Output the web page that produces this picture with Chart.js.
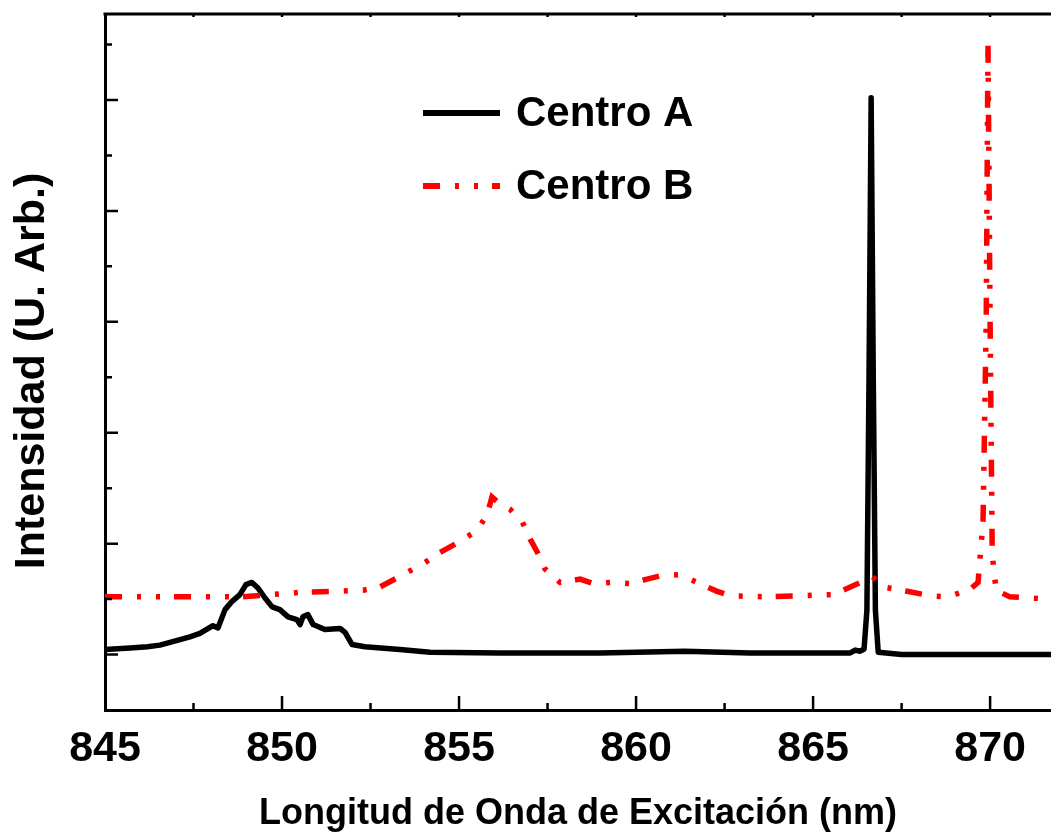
<!DOCTYPE html>
<html>
<head>
<meta charset="utf-8">
<script src="https://cdn.jsdelivr.net/npm/chart.js@4.4.1/dist/chart.umd.min.js"></script>
<style>
  html, body { margin: 0; padding: 0; background: #fff; }
  canvas { display: block; }
</style>
</head>
<body>
<canvas id="chart" width="1051" height="832"></canvas>
<script>
// Excitation spectra (arbitrary units)
const wavelengthA = [845.0, 845.71, 846.2, 846.55, 847.12, 847.4, 847.68, 848.05, 848.19, 848.39,
    848.59, 848.81, 848.98, 849.15, 849.32, 849.52, 849.72, 849.94, 850.17, 850.42,
    850.51, 850.59, 850.73, 850.88, 851.21, 851.64, 851.78, 851.98, 852.34, 853.33,
    854.18, 856.16, 858.98, 861.38, 863.22, 866.05, 866.19, 866.33, 866.44, 866.52,
    866.58, 866.64, 866.70, 866.76, 866.84, 867.5, 871.72];
const intensityA = [0.045, 0.06, 0.07, 0.085, 0.135, 0.16, 0.19, 0.26, 0.24, 0.405,
    0.48, 0.54, 0.63, 0.65, 0.60, 0.51, 0.43, 0.405, 0.34, 0.315,
    0.27, 0.34, 0.36, 0.27, 0.225, 0.235, 0.2, 0.09, 0.07, 0.045,
    0.02, 0.015, 0.015, 0.03, 0.015, 0.015, 0.04, 0.03, 0.05, 0.4,
    2.5, 5.02, 2.5, 0.4, 0.02, 0.0, 0.0];

const wavelengthB = [845.0, 848.81, 850.51, 851.55, 852.29, 852.77, 853.42, 854.04, 854.46, 855.03,
    855.51, 855.79, 855.93, 856.07, 856.44, 856.78, 857.01, 857.20, 857.43, 857.85,
    858.42, 858.79, 859.27, 859.83, 860.31, 860.68, 861.24, 861.72, 862.29, 862.66,
    863.70, 865.56, 866.13, 866.41, 866.69, 866.95, 867.66, 868.31, 868.81, 869.44,
    869.66, 869.80, 869.89, 869.94, 870.00, 870.06, 870.17, 870.56, 871.72];
const intensityB = [0.52, 0.52, 0.56, 0.57, 0.58, 0.61, 0.72, 0.83, 0.92, 1.02,
    1.12, 1.26, 1.42, 1.38, 1.31, 1.2, 1.04, 0.93, 0.77, 0.65,
    0.68, 0.64, 0.65, 0.64, 0.68, 0.71, 0.72, 0.65, 0.57, 0.53,
    0.52, 0.54, 0.62, 0.66, 0.70, 0.61, 0.57, 0.53, 0.52, 0.59,
    0.65, 1.2, 3.0, 5.52, 3.0, 0.9, 0.58, 0.52, 0.50];

const seriesNames = ['Centro A', 'Centro B'];
const xLabel = 'Longitud de Onda de Excitación (nm)';
const yLabel = 'Intensidad (U. Arb.)';

const FONT = '"Liberation Sans", Arial, sans-serif';

function toPoints(xs, ys) {
    return xs.map((x, i) => ({ x: x, y: ys[i] }));
}

// inward tick marks on the frame, top border line and the y title
const frameTicks = {
    id: 'frameTicks',
    afterDraw(chart) {
        const { ctx, chartArea: area, scales: { x, y } } = chart;
        ctx.save();
        ctx.strokeStyle = '#000';

        ctx.lineWidth = 3;
        ctx.beginPath();
        ctx.moveTo(area.left - 1.5, area.top);
        ctx.lineTo(area.right, area.top);
        ctx.stroke();

        ctx.lineWidth = 2.5;
        ctx.beginPath();
        for (let v = 847.5; v <= x.max; v += 2.5) {
            const px = x.getPixelForValue(v);
            const major = Math.abs(v % 5) < 1e-6;
            ctx.moveTo(px, area.bottom);
            ctx.lineTo(px, area.bottom - (major ? 14 : 7));
            ctx.moveTo(px, area.top);
            ctx.lineTo(px, area.top + 3);
        }
        for (let v = 0; v <= y.max; v += 0.5) {
            const py = y.getPixelForValue(v);
            const major = Math.abs(v % 1) < 1e-6;
            ctx.moveTo(area.left, py);
            ctx.lineTo(area.left + (major ? 13 : 7), py);
        }
        ctx.stroke();

        // y axis title
        ctx.translate(32, 371);
        ctx.rotate(-Math.PI / 2);
        ctx.fillStyle = '#000';
        ctx.font = 'bold 43px ' + FONT;
        ctx.textAlign = 'center';
        ctx.textBaseline = 'middle';
        ctx.fillText(yLabel, 0, 0);
        ctx.restore();
    }
};

// legend sitting inside the plot
const innerLegend = {
    id: 'innerLegend',
    afterDatasetsDraw(chart) {
        const { ctx } = chart;
        const rows = [113, 186];
        ctx.save();
        chart.data.datasets.forEach((ds, i) => {
            const yPos = rows[i];
            ctx.strokeStyle = ds.borderColor;
            ctx.lineWidth = ds.borderWidth + 0.5;
            ctx.setLineDash(ds.borderDash || []);
            ctx.lineCap = 'butt';
            ctx.beginPath();
            ctx.moveTo(423, yPos);
            ctx.lineTo(500, yPos);
            ctx.stroke();
            ctx.setLineDash([]);
            ctx.fillStyle = '#000';
            ctx.font = 'bold 42px ' + FONT;
            ctx.textBaseline = 'alphabetic';
            ctx.fillText(ds.label, 516, yPos + 13);
        });
        ctx.restore();
    }
};

const chart = new Chart(document.getElementById('chart'), {
    type: 'line',
    data: {
        datasets: [{
            label: seriesNames[0],
            data: toPoints(wavelengthA, intensityA),
            borderColor: '#000000',
            borderWidth: 5.5,
            borderJoinStyle: 'round',
            borderCapStyle: 'round',
            pointRadius: 0,
            tension: 0,
            order: 2
        }, {
            label: seriesNames[1],
            data: toPoints(wavelengthB, intensityB),
            borderColor: '#ff0000',
            borderWidth: 5.5,
            borderDash: [17, 15, 4, 15, 4, 14],
            pointRadius: 0,
            tension: 0,
            order: 1
        }]
    },
    options: {
        responsive: false,
        animation: false,
        devicePixelRatio: 1,
        layout: { padding: { top: 14, right: 0, left: 0, bottom: 0 } },
        plugins: {
            legend: { display: false },
            tooltip: { enabled: false }
        },
        scales: {
            x: {
                type: 'linear',
                min: 845,
                max: 871.72,
                grid: { display: false, drawTicks: false },
                border: { display: true, color: '#000', width: 3 },
                ticks: {
                    stepSize: 5,
                    includeBounds: false,
                    autoSkip: false,
                    maxRotation: 0,
                    padding: 13,
                    color: '#000',
                    font: { family: FONT, size: 43, weight: 'bold' }
                },
                title: {
                    display: true,
                    text: xLabel,
                    color: '#000',
                    padding: { top: 0, bottom: 0 },
                    font: { family: FONT, size: 36, weight: 'bold', lineHeight: 1 }
                },
                afterFit: (scale) => { scale.height = 122; }
            },
            y: {
                min: -0.5,
                max: 5.775,
                grid: { display: false, drawTicks: false },
                border: { display: true, color: '#000', width: 3 },
                ticks: { display: false },
                title: { display: false },
                afterFit: (scale) => { scale.width = 105; }
            }
        }
    },
    plugins: [frameTicks, innerLegend]
});
</script>
</body>
</html>
